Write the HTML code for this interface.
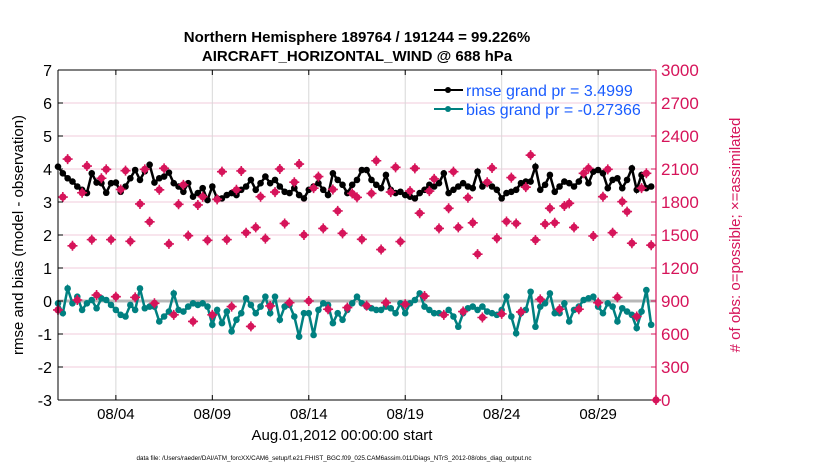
<!DOCTYPE html>
<html><head><meta charset="utf-8"><style>
body{margin:0;background:#fff;}
svg text{font-family:"Liberation Sans",Arial,sans-serif;}
</style></head><body>
<svg id="chart" width="830" height="470" xmlns="http://www.w3.org/2000/svg">
<g id="grid"></g>
<g id="series"></g>
<g id="axes"></g>
<text x="357" y="42" text-anchor="middle" font-size="15" font-weight="bold">Northern Hemisphere 189764 / 191244 = 99.226%</text>
<text x="357" y="61" text-anchor="middle" font-size="15" font-weight="bold">AIRCRAFT_HORIZONTAL_WIND @ 688 hPa</text>
<text transform="translate(23,235) rotate(-90)" text-anchor="middle" font-size="15">rmse and bias (model - observation)</text>
<text transform="translate(740,235) rotate(-90)" text-anchor="middle" font-size="15" fill="#d6145a">#  of obs: o=possible; ×=assimilated</text>
<text x="342" y="440" text-anchor="middle" font-size="15">Aug.01,2012 00:00:00 start</text>
<text x="334" y="460" text-anchor="middle" font-size="6.3">data file: /Users/raeder/DAI/ATM_forcXX/CAM6_setup/f.e21.FHIST_BGC.f09_025.CAM6assim.011/Diags_NTrS_2012-08/obs_diag_output.nc</text>
<g>
<line x1="434" y1="90" x2="463" y2="90" stroke="#000" stroke-width="2"/><circle cx="448" cy="90" r="3" fill="#000"/>
<text x="466" y="96" font-size="16" fill="#1a5cff">rmse grand pr = 3.4999</text>
<line x1="434" y1="109" x2="463" y2="109" stroke="#008080" stroke-width="2"/><circle cx="448" cy="109" r="3" fill="#008080"/>
<text x="466" y="115" font-size="16" fill="#1a5cff">bias grand pr = -0.27366</text>
</g>
</svg>
<script>
const rmse=[4.07,3.87,3.72,3.62,3.47,3.37,3.27,3.87,3.59,3.57,3.28,3.57,3.59,3.31,3.47,3.72,3.97,3.67,3.93,4.13,3.59,3.72,3.77,3.89,3.57,3.47,3.31,3.57,3.16,3.27,3.42,3.06,3.47,3.11,3.11,3.21,3.27,3.21,3.37,3.47,3.67,3.37,3.57,3.77,
3.57,3.67,3.47,3.31,3.27,3.42,3.21,3.11,3.37,3.47,3.57,3.37,3.21,3.87,3.67,3.52,3.27,3.52,3.67,3.97,3.97,3.67,3.52,3.42,3.82,3.37,3.27,3.31,3.21,3.16,3.11,3.27,3.37,3.52,3.47,3.57,3.87,3.27,3.37,3.47,3.57,3.47,3.42,3.92,3.47,
3.57,3.47,3.37,3.11,3.27,3.31,3.37,3.57,3.62,3.62,4.07,3.37,3.52,3.82,3.31,3.47,3.62,3.57,3.47,3.62,3.87,3.57,3.92,3.97,3.87,3.42,3.67,3.72,3.42,3.67,4.02,3.37,3.82,3.42,3.47];
const bias=[-0.07,-0.37,0.38,-0.07,0.13,-0.27,-0.07,0.03,-0.22,0.08,0.03,-0.12,-0.27,-0.42,-0.47,-0.12,-0.27,0.38,-0.22,-0.17,-0.17,-0.62,-0.47,-0.32,0.23,-0.27,-0.32,-0.17,-0.07,-0.12,-0.07,-0.17,-0.72,-0.27,-0.67,-0.32,-0.92,-0.57,-0.37,0.08,-0.12,-0.37,-0.17,0.13,
-0.37,0.13,-0.57,-0.17,-0.12,-0.47,-1.08,-0.37,-0.37,-1.03,-0.27,-0.07,-0.12,-0.67,-0.37,-0.57,-0.27,-0.07,0.13,-0.07,-0.17,-0.22,-0.27,-0.27,-0.17,-0.22,-0.37,-0.07,-0.37,-0.07,0.03,0.23,-0.17,-0.27,-0.37,-0.37,-0.42,-0.27,-0.47,-0.78,-0.37,-0.22,-0.17,-0.27,-0.17,
-0.32,-0.37,-0.42,-0.27,0.13,-0.47,-0.98,-0.37,-0.27,0.28,-0.78,-0.17,-0.07,0.23,-0.37,-0.37,-0.07,-0.62,-0.27,-0.17,0.03,0.08,0.13,-0.17,-0.37,-0.07,-0.17,-0.62,-0.22,-0.32,-0.42,-0.82,-0.32,0.33,-0.72];
const nobs=[819,1845,2190,1402,909,1884,2127,1458,954,2016,2097,1458,939,1914,2085,1443,933,1782,2097,1620,879,1911,2106,1419,774,1779,1956,1494,714,1773,1848,1452,774,1824,2076,1458,849,1911,2082,1521,669,1569,1848,1467,
855,1890,2100,1605,885,1980,2145,1500,900,1926,2031,1560,825,1914,1719,1515,840,1878,1842,1461,858,1878,2175,1368,885,1890,2115,1440,870,1899,2106,1698,945,1899,2010,1560,774,1743,2076,1569,804,
1839,1611,1326,750,1980,2109,1470,783,1623,2022,1605,801,1935,2226,1455,915,1599,1743,1611,825,1764,1788,1569,825,2061,2106,1491,885,1848,2097,1521,933,1803,1713,1425,759,1926,2061,1407,0];
const leftTicks=[-3,-2,-1,0,1,2,3,4,5,6,7];
const rightTicks=[0,300,600,900,1200,1500,1800,2100,2400,2700,3000];
const dateDays=[4,9,14,19,24,29];
const dateLabels=["08/04","08/09","08/14","08/19","08/24","08/29"];

const NS="http://www.w3.org/2000/svg";
const X0=58,X1=656,Y0=70,Y1=400;
const xDay=d=>X0+(d-1)/31*(X1-X0);
const xIdx=i=>xDay(1+i*0.25);
const yL=v=>Y1-(v+3)/10*(Y1-Y0);
const yR=c=>Y1-c/3000*(Y1-Y0);
function mk(p,tag,a){const e=document.createElementNS(NS,tag);for(const k in a)e.setAttribute(k,a[k]);p.appendChild(e);return e;}
const G=document.getElementById('grid'),S=document.getElementById('series'),A=document.getElementById('axes');

leftTicks.forEach(v=>{const l=mk(G,'line',{x1:X0,x2:X1,y1:yL(v),y2:yL(v),stroke:'#f2cbdb','stroke-width':1});

});
dateDays.forEach(d=>{const l=mk(G,'line',{x1:xDay(d),x2:xDay(d),y1:Y0,y2:Y1,stroke:'#d8d8d8','stroke-width':1});

});
const z=mk(G,'line',{x1:X0,x2:X1,y1:yL(0),y2:yL(0),stroke:'#b8b8b8','stroke-width':3});



function line(arr,col,name){const pts=arr.map((v,i)=>xIdx(i).toFixed(1)+','+yL(v).toFixed(1)).join(' ');
const pl=mk(S,'polyline',{points:pts,fill:'none',stroke:col,'stroke-width':2.5});


arr.forEach((v,i)=>{const c=mk(S,'circle',{cx:xIdx(i),cy:yL(v),r:3.3,fill:col});

});}
line(rmse,'#000','rmse');
line(bias,'#008080','bias');
nobs.forEach((c,i)=>{const g=mk(S,'g',{});


const x=xIdx(i),y=yR(c);
mk(g,'circle',{cx:x,cy:y,r:3.6,fill:'#d6145a'});
mk(g,'path',{d:`M${x-5},${y}H${x+5}M${x},${y-5}V${y+5}`,stroke:'#d6145a','stroke-width':1.6});});

mk(A,'line',{x1:X0,x2:X1,y1:Y0,y2:Y0,stroke:'#000'});
mk(A,'line',{x1:X0,x2:X1,y1:Y1,y2:Y1,stroke:'#000'});
mk(A,'line',{x1:X0,x2:X0,y1:Y0,y2:Y1,stroke:'#000'});
mk(A,'line',{x1:X1,x2:X1,y1:Y0,y2:Y1,stroke:'#d6145a','stroke-width':1.2});
leftTicks.forEach(v=>{mk(A,'line',{x1:X0,x2:X0+5,y1:yL(v),y2:yL(v),stroke:'#000'});
const t=mk(A,'text',{x:X0-6,y:yL(v)+6,'text-anchor':'end','font-size':16});t.textContent=v;

});
rightTicks.forEach(c=>{mk(A,'line',{x1:X1-5,x2:X1,y1:yR(c),y2:yR(c),stroke:'#d6145a'});
const t=mk(A,'text',{x:X1+5,y:yR(c)+6,'font-size':17,fill:'#d6145a'});t.textContent=c;

});
dateDays.forEach((d,i)=>{mk(A,'line',{x1:xDay(d),x2:xDay(d),y1:Y1,y2:Y1-5,stroke:'#000'});
mk(A,'line',{x1:xDay(d),x2:xDay(d),y1:Y0,y2:Y0+5,stroke:'#000'});
const t=mk(A,'text',{x:xDay(d),y:Y1+19,'text-anchor':'middle','font-size':15});t.textContent=dateLabels[i];

});
</script>
</body></html>
